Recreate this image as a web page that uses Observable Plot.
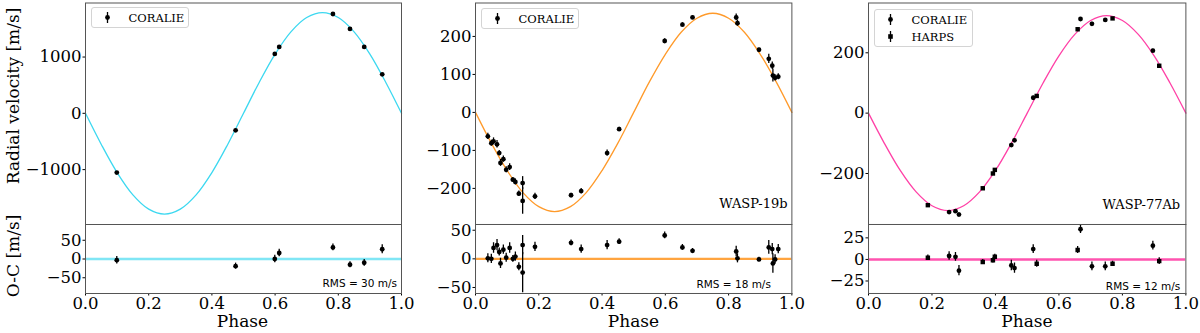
<!DOCTYPE html>
<html><head><meta charset="utf-8">
<script src="https://cdn.jsdelivr.net/npm/d3@7"></script>
<script src="https://cdn.jsdelivr.net/npm/@observablehq/plot@0.6"></script>
<style>
html,body{margin:0;padding:0;background:#fff;}
#fig{position:relative;width:1200px;height:333px;overflow:hidden;background:#fff;}
.legend{position:absolute;box-sizing:border-box;border:1px solid #d4d4d4;border-radius:3px;background:rgba(255,255,255,0.85);font-family:"DejaVu Serif",serif;font-size:11.5px;color:#000;}
.legend svg{position:absolute;left:0;top:0;overflow:visible;}
</style></head><body><div id="fig"></div>
<script>
// ---------- data ----------
const modelPhase = [0,0.05,0.1,0.15,0.2,0.25,0.3,0.35,0.4,0.45,0.5,0.55,0.6,0.65,0.7,0.75,0.8,0.85,0.9,0.95,1];

// Panel 1
const p1Phase = [0.099, 0.475, 0.599, 0.613, 0.783, 0.837, 0.882, 0.939];
const p1RV    = [-1053, -302, 1055, 1179, 1765, 1499, 1179, 693];
const p1OC    = [-3, -19, 0, 16, 31, -15, -10, 26];
const p1Err   = [10, 8, 10, 10, 9, 8, 9, 12];
const p1Model = [0,-553,-1052,-1448,-1702,-1790,-1702,-1448,-1052,-553,0,553,1052,1448,1702,1790,1702,1448,1052,553,0];

// Panel 2 (WASP-19b)
const p2Phase = [0.039,0.050,0.057,0.068,0.075,0.079,0.088,0.097,0.108,0.118,0.126,0.137,0.149,0.149,
                 0.188,0.302,0.334,0.416,0.454,0.598,0.654,0.686,0.824,0.828,0.896,0.927,0.938,0.940,0.947,0.957];
const p2RV    = [-63,-81,-76,-84,-107,-133,-123,-151,-144,-177,-183,-214,-186,-233,
                 -221,-218,-207,-107,-44,188,231,250,250,235,165,141,123,97,91,94];
const p2OC    = [1,0,19,24,12,-8,16,2,19,0,4,-14,24,-24,
                 21,28,17,24,30,41,20,14,13,1,-1,20,17,-8,-1,17];
const p2Err   = [8,8,9,10,7,9,8,8,9,6,8,7,17,35,
                 8,5,7,8,5,6,5,4,9,8,4,12,10,17,8,8];
const p2Model = [0,-81,-153,-211,-248,-261,-248,-211,-153,-81,0,81,153,211,248,261,248,211,153,81,0];

// Panel 3 (WASP-77Ab)
const p3Phase = [0.187,0.254,0.274,0.285,0.360,0.392,0.398,0.450,0.460,0.519,0.530,0.659,0.668,0.704,0.746,0.769,0.896,0.916];
const p3Inst  = ["HARPS","CORALIE","CORALIE","CORALIE","HARPS","HARPS","HARPS","CORALIE","CORALIE","CORALIE","HARPS","HARPS","CORALIE","CORALIE","CORALIE","HARPS","CORALIE","HARPS"];
const p3RV    = [-305,-328,-325,-336,-249,-200,-188,-106,-90,51,57,278,312,296,309,314,207,157];
const p3OC    = [2,4,3,-13,-3,-1,3,-7,-10,12,-5,11,35,-8,-8,-5,16,-2];
const p3Err   = [3,5,5,6,3,3,3,6,6,5,4,4,5,5,5,3,5,4];
const p3Model = [0,-100,-190,-261,-307,-323,-307,-261,-190,-100,0,100,190,261,307,323,307,261,190,100,0];

const xTicks = [0,0.2,0.4,0.6,0.8,1.0];

// ---------- layout ----------
const fig = document.getElementById("fig");
const ML = 70, MR = 10;
const TOP0 = 2.5, TOP1 = 224, BOT1 = 293;
const fmtY = d => d < 0 ? "\u2212" + Math.abs(d) : String(d);
const baseStyle = {fontFamily: "DejaVu Serif", fontSize: "16.5px", color: "black", background: "transparent", overflow: "visible"};

function place(el, left, top) {
  el.style.position = "absolute";
  el.style.left = left + "px";
  el.style.top = top + "px";
  fig.appendChild(el);
}

function dotMarks(pts, yKey) {
  const c = pts.filter(d => d.inst !== "HARPS");
  const h = pts.filter(d => d.inst === "HARPS");
  return [
    Plot.ruleX(pts, {x: "x", y1: d => d[yKey] - d.e, y2: d => d[yKey] + d.e, stroke: "black", strokeWidth: 1.3}),
    Plot.dot(c, {x: "x", y: yKey, r: 2.4, fill: "black", symbol: "circle"}),
    Plot.dot(h, {x: "x", y: yKey, r: 2.5, fill: "black", symbol: "square"})
  ];
}

function panel(cfg) {
  const w = cfg.right - cfg.left;
  const pts = cfg.phase.map((p, i) => ({x: p, rv: cfg.rv[i], oc: cfg.oc[i], e: cfg.err[i], inst: cfg.inst ? cfg.inst[i] : "CORALIE"}));
  const model = modelPhase.map((p, i) => ({x: p, y: cfg.model[i]}));
  const top = Plot.plot({
    width: w + ML + MR, height: TOP1 + 1,
    marginLeft: ML, marginRight: MR, marginTop: TOP0, marginBottom: 1,
    x: {domain: [0, 1], axis: null},
    y: {domain: cfg.yDomain, ticks: cfg.yTicks, tickFormat: fmtY, tickSize: 2.5, tickPadding: 1.5, label: null},
    style: baseStyle,
    marks: [
      Plot.line(model, {x: "x", y: "y", stroke: cfg.color, strokeWidth: 1.3, curve: "catmull-rom"}),
      ...dotMarks(pts, "rv"),
      Plot.frame({stroke: "#555", strokeWidth: 1}),
      ...(cfg.name ? [Plot.text([cfg.name], {text: d => d, frameAnchor: "bottom-right", dx: cfg.nameDx, dy: cfg.nameDy,
          textAnchor: "end", lineAnchor: "middle", fontSize: 13, fontFamily: "DejaVu Serif", fill: "black"})] : [])
    ]
  });
  place(top, cfg.left - ML, 0);

  const bTop = TOP1 - 4;
  const bottom = Plot.plot({
    width: w + ML + MR, height: 333 - bTop,
    marginLeft: ML, marginRight: MR, marginTop: 4, marginBottom: 333 - bTop - 4 - (BOT1 - TOP1),
    x: {domain: [0, 1], ticks: xTicks, tickFormat: d => d.toFixed(1), tickSize: 2.5, tickPadding: 1.5, label: null},
    y: {domain: cfg.ocDomain, ticks: cfg.ocTicks, tickFormat: fmtY, tickSize: 2.5, tickPadding: 1.5, label: null},
    style: baseStyle,
    clip: true,
    marks: [
      Plot.ruleY([0], {stroke: cfg.color, strokeWidth: 2.4, strokeOpacity: cfg.zeroOpacity}),
      ...dotMarks(pts, "oc"),
      Plot.frame({stroke: "#555", strokeWidth: 1}),
      Plot.text([cfg.rms], {text: d => d, frameAnchor: "bottom-right", dx: cfg.rmsDx, dy: cfg.rmsDy,
          textAnchor: "end", lineAnchor: "middle", fontSize: 10.5, fontFamily: "DejaVu Sans", fill: "black"})
    ]
  });
  place(bottom, cfg.left - ML, bTop);
}

panel({left: 84.5, right: 400.5, phase: p1Phase, rv: p1RV, oc: p1OC, err: p1Err, model: p1Model,
  color: "#3cd8f0", zeroOpacity: 0.65, yDomain: [-1975, 1960], yTicks: [-1000, 0, 1000],
  ocDomain: [-92, 92], ocTicks: [-50, 0, 50], rms: "RMS = 30 m/s", rmsDx: -4.5, rmsDy: -10});
panel({left: 475.3, right: 791.7, phase: p2Phase, rv: p2RV, oc: p2OC, err: p2Err, model: p2Model,
  color: "#ff9a2a", zeroOpacity: 0.9, yDomain: [-295, 288], yTicks: [-200, -100, 0, 100, 200],
  ocDomain: [-60.5, 60], ocTicks: [-50, 0, 50], rms: "RMS = 18 m/s", rmsDx: -21, rmsDy: -8.5,
  name: "WASP-19b", nameDx: -4.4, nameDy: -21});
panel({left: 868.3, right: 1185.7, phase: p3Phase, rv: p3RV, oc: p3OC, err: p3Err, inst: p3Inst, model: p3Model,
  color: "#ff40a6", zeroOpacity: 0.9, yDomain: [-369, 365], yTicks: [-200, 0, 200],
  ocDomain: [-39.5, 40.5], ocTicks: [-25, 0, 25], rms: "RMS = 12 m/s", rmsDx: -5.7, rmsDy: -6.5,
  name: "WASP-77Ab", nameDx: -5.7, nameDy: -19.5});

// ---------- legends ----------
function legend(left, top, width, height, entries) {
  const div = document.createElement("div");
  div.className = "legend";
  Object.assign(div.style, {left: left + "px", top: top + "px", width: width + "px", height: height + "px"});
  const ns = "http://www.w3.org/2000/svg";
  const svg = document.createElementNS(ns, "svg");
  svg.setAttribute("width", width); svg.setAttribute("height", height);
  entries.forEach((e, i) => {
    const cy = 9.5 + i * 17;
    const l = document.createElementNS(ns, "line");
    l.setAttribute("x1", 15.5); l.setAttribute("x2", 15.5);
    l.setAttribute("y1", cy - 5.5); l.setAttribute("y2", cy + 5.5);
    l.setAttribute("stroke", "black"); l.setAttribute("stroke-width", 1.3);
    svg.appendChild(l);
    let m;
    if (e.symbol === "square") {
      m = document.createElementNS(ns, "rect");
      m.setAttribute("x", 15.5 - 2.3); m.setAttribute("y", cy - 2.3);
      m.setAttribute("width", 4.6); m.setAttribute("height", 4.6);
    } else {
      m = document.createElementNS(ns, "circle");
      m.setAttribute("cx", 15.5); m.setAttribute("cy", cy); m.setAttribute("r", 2.4);
    }
    m.setAttribute("fill", "black");
    svg.appendChild(m);
    const t = document.createElementNS(ns, "text");
    t.setAttribute("x", 36.5); t.setAttribute("y", cy);
    t.setAttribute("dominant-baseline", "central");
    t.setAttribute("font-family", "DejaVu Serif"); t.setAttribute("font-size", "11.5px");
    t.textContent = e.label;
    svg.appendChild(t);
  });
  div.appendChild(svg);
  fig.appendChild(div);
}
legend(90.7, 7.3, 98.3, 21, [{label: "CORALIE", symbol: "circle"}]);
legend(481, 8.3, 98.3, 21, [{label: "CORALIE", symbol: "circle"}]);
legend(874, 9.3, 98.7, 37.4, [{label: "CORALIE", symbol: "circle"}, {label: "HARPS", symbol: "square"}]);

// ---------- axis titles ----------
(function () {
  const ns = "http://www.w3.org/2000/svg";
  const svg = document.createElementNS(ns, "svg");
  svg.setAttribute("width", 1200); svg.setAttribute("height", 333);
  Object.assign(svg.style, {position: "absolute", left: "0px", top: "0px", pointerEvents: "none"});
  function txt(s, x, y, rot) {
    const t = document.createElementNS(ns, "text");
    t.setAttribute("text-anchor", "middle");
    t.setAttribute("font-family", "DejaVu Serif");
    t.setAttribute("font-size", "17px");
    t.setAttribute("transform", `translate(${x},${y})` + (rot ? ` rotate(${rot})` : ""));
    t.textContent = s;
    svg.appendChild(t);
  }
  txt("Radial velocity [m/s]", 18.5, 96, -90);
  txt("O-C [m/s]", 18.5, 256, -90);
  txt("Phase", 242.5, 327);
  txt("Phase", 633.5, 327);
  txt("Phase", 1027, 327);
  fig.appendChild(svg);
})();
</script></body></html>
